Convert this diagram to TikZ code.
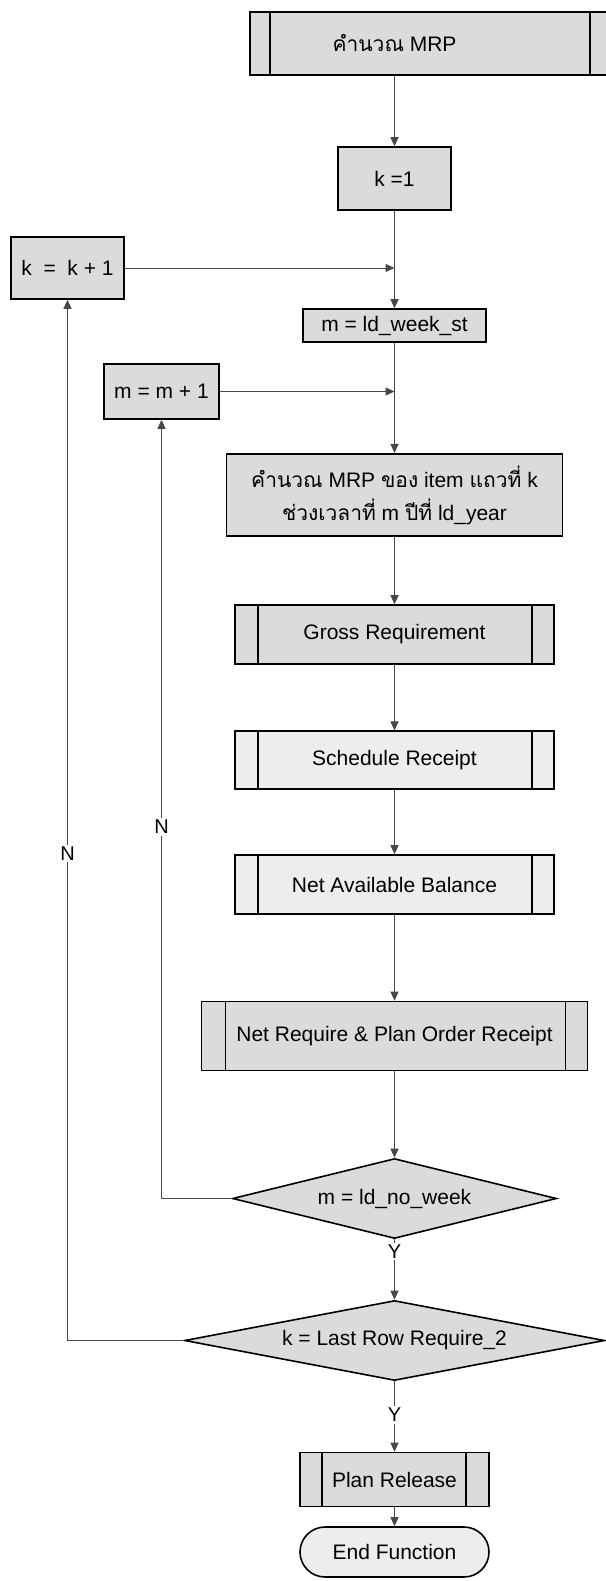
\documentclass[tikz,border=0pt]{standalone}
\usepackage{fontspec}
\setmainfont{Liberation Sans}
\newfontfamily\thaifont[Script=Thai]{Loma}
\newcommand\thx[1]{{\thaifont #1}}
\usetikzlibrary{shapes.geometric,arrows.meta}

\definecolor{boxfill}{gray}{0.86}
\definecolor{lightfill}{gray}{0.93}
\definecolor{linegray}{gray}{0.28}

\tikzset{
  x=1pt, y=-1pt,
  every node/.style={font=\fontsize{21}{33}\selectfont, inner sep=0pt},
  box/.style={draw=black, line width=1.6pt, fill=boxfill, rectangle, align=center},
  predef/.style n args={2}{box,
    path picture={
      \draw[line width=1.6pt]
        ([xshift=#1]path picture bounding box.north west) -- ([xshift=#1]path picture bounding box.south west)
        ([xshift=-#2]path picture bounding box.north east) -- ([xshift=-#2]path picture bounding box.south east);
    }},
  decision/.style={draw=black, line width=1.6pt, fill=boxfill, diamond, shape aspect=#1},
  terminal/.style={draw=black, line width=1.6pt, fill=lightfill, rectangle, rounded corners=25pt},
  flow/.style={draw=linegray, line width=1pt, -{Triangle[length=9pt,width=8pt]}},
  lbl/.style={fill=white, inner sep=2pt, font=\fontsize{20}{24}\selectfont},
}

\begin{document}
\begin{tikzpicture}
\useasboundingbox (0,0) rectangle (605,1581);

% main column
\node[predef={20pt}{22pt}, minimum width=362pt, minimum height=63pt] (top) at (431,43.5)
  {\hspace*{-73pt}\thx{คำนวณ} MRP};
\node[box, minimum width=113pt, minimum height=63pt] (k1) at (394.5,178.5) {k =1};
\node[box, minimum width=183pt, minimum height=33pt] (mws) at (394.5,325.5) {m = ld\_week\_st};
\node[box, minimum width=336pt, minimum height=82.5pt] (mrp) at (394.5,495)
  {\thx{คำนวณ} MRP \thx{ของ} item \thx{แถวที่} k\\ \thx{ช่วงเวลาที่} m \thx{ปีที่} ld\_year};
\node[predef={23pt}{22pt}, minimum width=319pt, minimum height=59pt] (gross) at (394.5,634.5) {Gross Requirement};
\node[predef={23pt}{22pt}, fill=lightfill, minimum width=319pt, minimum height=57.5pt] (sched) at (394.5,760) {Schedule Receipt};
\node[predef={23pt}{22pt}, fill=lightfill, minimum width=319pt, minimum height=59pt] (nab) at (394.5,884.5) {Net Available Balance};
\node[predef={24pt}{22pt}, minimum width=386pt, minimum height=69pt] (nrpor) at (394.5,1036) {Net Require \& Plan Order Receipt};
\node[decision=4.05, minimum width=324pt, minimum height=80pt] (d1) at (394.5,1198.5) {m = ld\_no\_week};
\node[decision=5.25, minimum width=420pt, minimum height=80pt] (d2) at (394.5,1340.5) {k = Last Row Require\_2};
\node[predef={22pt}{23pt}, minimum width=189pt, minimum height=54pt] (plan) at (394.5,1479.5) {Plan Release};
\node[terminal, minimum width=189pt, minimum height=50pt] (end) at (394.5,1552) {End Function};

% loop counters
\node[box, minimum width=113pt, minimum height=62pt] (kinc) at (67.5,268) {k \ = \ k + 1};
\node[box, minimum width=115pt, minimum height=55pt] (minc) at (161.5,391.5) {m = m + 1};

% forward flow
\draw[flow] (top.south -| k1.north) -- (k1.north);
\draw[flow] (k1.south) -- (mws.north);
\draw[flow] (mws.south) -- (mrp.north);
\draw[flow] (mrp.south) -- (gross.north);
\draw[flow] (gross.south) -- (sched.north);
\draw[flow] (sched.south) -- (nab.north);
\draw[flow] (nab.south) -- (nrpor.north);
\draw[flow] (nrpor.south) -- (d1.north);
\draw[flow] (d1.south) -- node[lbl, pos=0.2] {Y} (d2.north);
\draw[flow] (d2.south) -- node[lbl, pos=0.48] {Y} (plan.north);
\draw[flow] (plan.south) -- (end.north);

% counter increments rejoining the column
\draw[flow] (kinc.east) -- (kinc.east -| k1.south);
\draw[flow] (minc.east) -- (minc.east -| mws.south);

% loop-back branches
\draw[flow] (d1.west) -- (d1.west -| minc.south) -- node[lbl, pos=0.477] {N} (minc.south);
\draw[flow] (d2.west) -- (d2.west -| kinc.south) -- node[lbl, pos=0.468] {N} (kinc.south);
\end{tikzpicture}
\end{document}
